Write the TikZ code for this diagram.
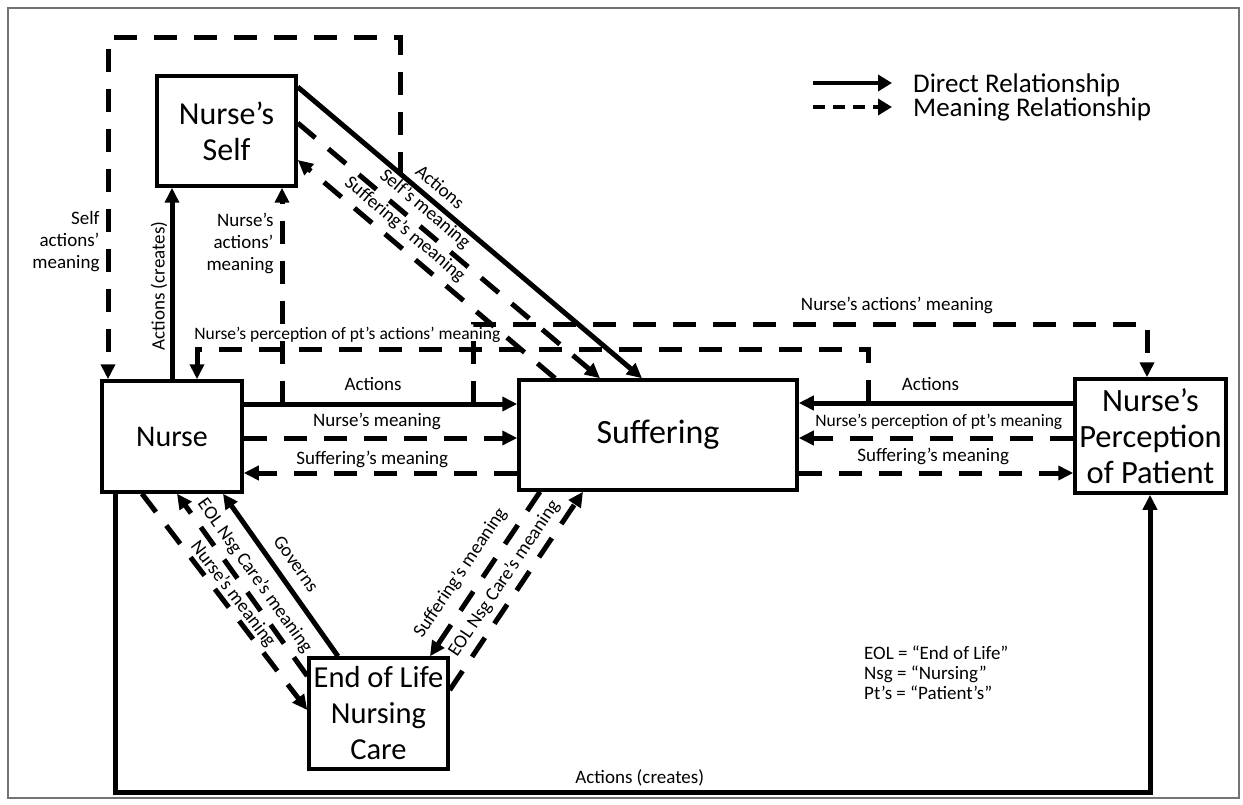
\documentclass[tikz,border=0pt]{standalone}
\usepackage{fontspec}
\setmainfont{Carlito}
\usetikzlibrary{arrows.meta}
\begin{document}
\begin{tikzpicture}[x=1pt,y=-1pt,
  box/.style={draw, line width=3.5pt, inner sep=0pt, align=center},
  sol/.style={line width=5pt, -{Triangle[length=15pt,width=14pt]}},
  dsh/.style={line width=5pt, dash pattern=on 23pt off 17pt, -{Triangle[length=15pt,width=14pt]}},
  lbl/.style={inner sep=0pt, text depth=0pt, font=\fontsize{19}{22}\selectfont},
  slbl/.style={inner sep=0pt, text depth=0pt, font=\fontsize{17.5}{21}\selectfont},
  mlbl/.style={inner sep=0pt, align=right, font=\fontsize{19}{22}\selectfont},
  lgtext/.style={anchor=base west, inner sep=0pt, font=\fontsize{27}{30}\selectfont},
]
\useasboundingbox (0,0) rectangle (1243,805);
\draw[black!55, line width=2pt] (8,8) rectangle (1239,798);

% boxes
\node[box, font=\fontsize{32}{36}\selectfont, minimum width=139pt, minimum height=110pt] (self) at (226.5,131) {Nurse’s\\Self};
\node[box, font=\fontsize{30}{36}\selectfont, minimum width=140pt, minimum height=111pt] (nurse) at (172,436.5) {Nurse};
\node[box, font=\fontsize{34}{36}\selectfont, minimum width=278pt, minimum height=110pt] (suff) at (658,435) {Suffering};
\node[box, font=\fontsize{32.5}{36}\selectfont, minimum width=151pt, minimum height=114pt] (npp) at (1150.5,436) {Nurse’s\\Perception\\of Patient};
\node[box, font=\fontsize{30.5}{36}\selectfont, minimum width=139pt, minimum height=111pt] (eol) at (378.5,713.5) {End of Life\\Nursing\\Care};

% Self <-> Suffering
\draw[sol] (self.east |- 0,87) -- node[lbl, sloped, pos=0.384, above=7pt]{Actions} (suff.north -| 642,0);
\draw[dsh] (self.east |- 0,123) -- node[lbl, sloped, pos=0.386, above=8.4pt]{Self’s meaning} (suff.north -| 600,0);
\draw[dsh] (suff.north -| 555,0) -- node[lbl, sloped, pos=0.625, above=8.7pt]{Suffering’s meaning} (self.east |- 0,160);

% Nurse -> Self
\draw[sol] (nurse.north -| 172,0) -- node[lbl, sloped, pos=0.487, above=5pt]{Actions (creates)} (self.south -| 172,0);

% branch coordinates on action lines
\coordinate (a5) at (282,404);
\coordinate (a6) at (400,175);
\coordinate (a7) at (868,403);
\coordinate (a8) at (473,404);

\draw[dsh] (a5) -- node[mlbl, pos=0.743, left=6pt]{Nurse’s\\actions’\\meaning} (self.south -| 282,0);
\draw[dsh] (a6) -- (400,38) -- (108,38) -- node[mlbl, pos=0.595, left=6pt]{Self\\actions’\\meaning} (nurse.north -| 108,0);
\draw[dsh] (a7) -- (868,349) -- node[slbl, pos=0.776, above=7pt]{Nurse’s perception of pt’s actions’ meaning} (197,349) -- (nurse.north -| 197,0);
\draw[dsh] (a8) -- (473,324) -- node[lbl, pos=0.629, above=11.3pt]{Nurse’s actions’ meaning} (1147,324) -- (npp.north -| 1147,0);

% Nurse <-> Suffering
\draw[sol] (nurse.east |- 0,404) -- node[lbl, pos=0.473, above=11.3pt]{Actions} (suff.west |- 0,404);
\draw[dsh] (nurse.east |- 0,438) -- node[lbl, pos=0.487, above=8.6pt]{Nurse’s meaning} (suff.west |- 0,438);
\draw[dsh] (suff.west |- 0,473) -- node[lbl, pos=0.53, above=6.3pt]{Suffering’s meaning} (nurse.east |- 0,473);

% NPP <-> Suffering
\draw[sol] (npp.west |- 0,403) -- node[lbl, pos=0.52, above=9.7pt]{Actions} (suff.east |- 0,403);
\draw[dsh] (npp.west |- 0,438) -- node[slbl, pos=0.49, above=8.6pt]{Nurse’s perception of pt’s meaning} (suff.east |- 0,438);
\draw[dsh] (suff.east |- 0,473) -- node[lbl, pos=0.49, above=8.6pt]{Suffering’s meaning} (npp.west |- 0,473);

% Nurse -> NPP
\draw[sol] (nurse.south -| 115,0) -- (115,792) -- node[lbl, pos=0.507, above=6pt]{Actions (creates)} (1150,792) -- (npp.south -| 1150,0);

% EOL links
\draw[sol] (eol.north -| 338,0) -- node[lbl, sloped, pos=0.501, above=10.7pt]{Governs} (nurse.south -| 223,0);
\draw[dsh] (eol.west |- 0,676) -- node[lbl, sloped, pos=0.5, above=7.9pt]{EOL Nsg Care’s meaning} (nurse.south -| 177,0);
\draw[dsh] (nurse.south -| 142,0) -- node[lbl, sloped, pos=0.496, above=3.6pt]{Nurse’s meaning} (eol.west |- 0,710);
\draw[dsh] (suff.south -| 540,0) -- node[lbl, sloped, pos=0.564, above=13.5pt]{Suffering’s meaning} (eol.north -| 430,0);
\draw[dsh] (eol.east |- 0,690) -- node[lbl, sloped, pos=0.515, above=9.3pt]{EOL Nsg Care’s meaning} (suff.south -| 583,0);

% legend
\node[lgtext] (lg1) at (913,92.5) {Direct Relationship};
\node[lgtext] (lg2) at (913,117) {Meaning Relationship};
\coordinate (lg1s) at (813,83);
\coordinate (lg1e) at (892,83);
\coordinate (lg2s) at (813,107);
\coordinate (lg2e) at (892,107);
\draw[line width=4pt, -{Triangle[length=14pt,width=16pt]}] (lg1s) -- (lg1e);
\draw[line width=4pt, dash pattern=on 12pt off 8pt, -{Triangle[length=14pt,width=16pt]}] (lg2s) -- (lg2e);

% abbreviations
\node[anchor=north west, align=left, inner sep=0pt, font=\fontsize{19}{20}\selectfont] (abbr) at (864,646) {EOL = “End of Life”\\Nsg = “Nursing”\\Pt’s = “Patient’s”};
\end{tikzpicture}
\end{document}
